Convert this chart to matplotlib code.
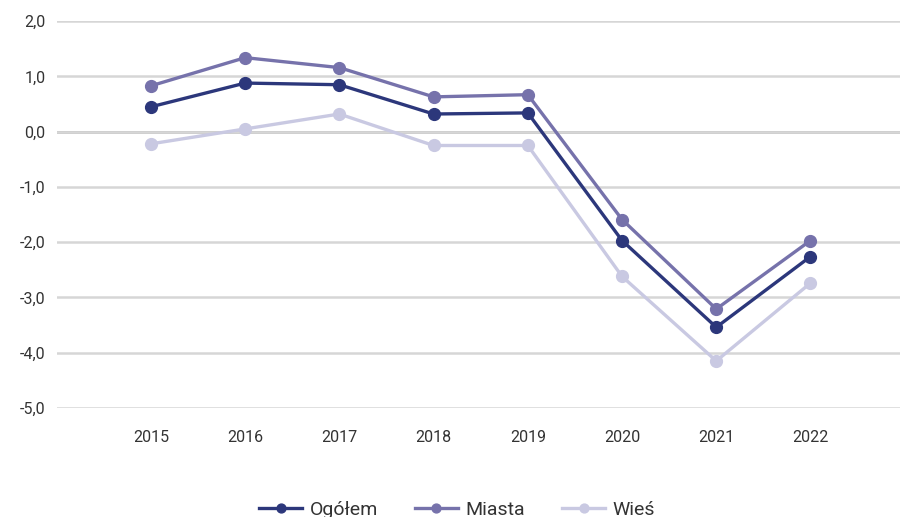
import matplotlib.pyplot as plt

plt.rcParams['font.family'] = ['Roboto', 'DejaVu Sans']

years = ['2015', '2016', '2017', '2018', '2019', '2020', '2021', '2022']
ogolem = [0.45, 0.88, 0.85, 0.32, 0.34, -1.97, -3.54, -2.26]
miasta = [0.83, 1.34, 1.16, 0.63, 0.67, -1.59, -3.21, -1.97]
wies = [-0.22, 0.05, 0.32, -0.25, -0.25, -2.62, -4.15, -2.74]

series = [
    ('Wieś', wies, '#c9c9e2'),
    ('Miasta', miasta, '#7672ab'),
    ('Ogółem', ogolem, '#2c377b'),
]

fig = plt.figure(figsize=(9, 5.17), dpi=100)
ax = fig.add_axes([0.063, 0.211, 0.937, 0.748])

x = range(len(years))
handles = {}
for name, vals, col in series:
    h, = ax.plot(x, vals, color=col, lw=2.4, marker='o', ms=8.5,
                 solid_joinstyle='round', label=name, zorder=3)
    handles[name] = h

ax.set_ylim(-5, 2)
ax.set_xlim(-1, 7.95)
ax.set_yticks(range(-5, 3))
ax.set_yticklabels([f'{v},0' for v in range(-5, 3)])
ax.set_xticks(list(x))
ax.set_xticklabels(years)

ax.grid(axis='y', color='#d6d6d6', lw=1.8, zorder=0)
ax.axhline(0, color='#b0b0b0', lw=1.9, zorder=1)
for s in ax.spines.values():
    s.set_visible(False)
ax.tick_params(length=0, labelsize=11.5, colors='#333333')
ax.tick_params(axis='y', pad=8)
ax.tick_params(axis='x', pad=16)

fig.legend([handles['Ogółem'], handles['Miasta'], handles['Wieś']],
           ['Ogółem', 'Miasta', 'Wieś'],
           loc='center', bbox_to_anchor=(0.508, 0.014), ncol=3, frameon=False,
           fontsize=14, handlelength=2.2, columnspacing=1.9,
           handletextpad=0.4, markerscale=0.75, labelcolor='#333333')

fig.savefig('out.png', dpi=100)
